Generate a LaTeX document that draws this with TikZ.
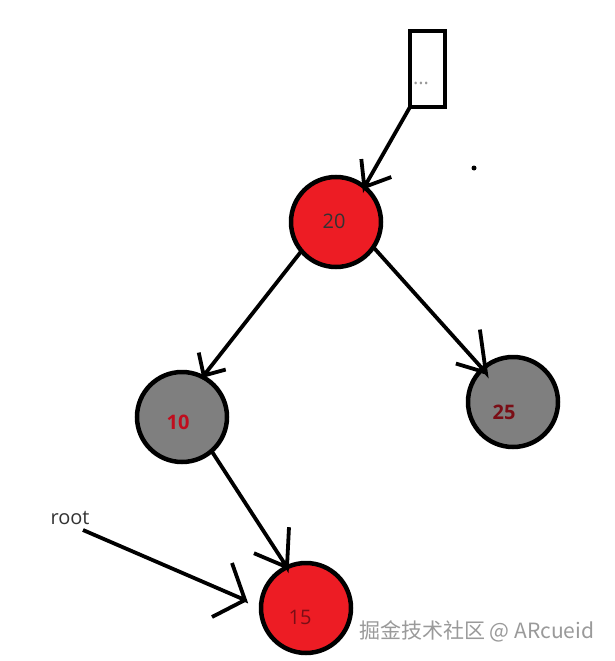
\documentclass[tikz,border=0pt]{standalone}
\usepackage{fontspec}
\setmainfont{Open Sans}
\newfontfamily\cjkwm{Noto Sans CJK SC}
\definecolor{nodered}{HTML}{ED1C24}
\definecolor{nodegray}{HTML}{7F7F7F}
\definecolor{txtdark}{HTML}{333333}
\definecolor{txtred}{HTML}{C00D1E}
\definecolor{txtdeep}{HTML}{7A0E16}
\definecolor{wmgray}{HTML}{9A9A9A}
\tikzset{
  treenode/.style={circle,draw=black,line width=4.5pt,minimum size=90pt,inner sep=0pt,outer sep=0pt},
  rednode/.style={treenode,fill=nodered},
  graynode/.style={treenode,fill=nodegray},
  edge/.style={draw=black,line width=3.8pt,line join=miter},
  val/.style={inner sep=0pt,font=\fontsize{20}{20}\selectfont},
  boldval/.style={val,font=\fontsize{20}{20}\selectfont\bfseries,text=txtred}
}
\begin{document}
\begin{tikzpicture}[x=1pt,y=-1pt]
\useasboundingbox (0,0) rectangle (614,661);
\fill[white] (0,0) rectangle (614,661);
\node[draw=black,line width=4.5pt,fill=white,minimum width=35pt,minimum height=76pt,inner sep=0pt,outer sep=0pt] (box) at (427.5,69) {};
\node[inner sep=0pt,text=gray!80,font=\fontsize{20}{20}\selectfont] (dots) at (421,83) {...};
\node[rednode] (n20) at (336,222) {};
\node[graynode] (n10) at (182,417) {};
\node[graynode] (n25) at (513,402) {};
\node[rednode] (n15) at (306,608) {};
\node[val,text=txtdark] (t20) at (334,221) {20};
\node[boldval] (t10) at (178,422) {10};
\node[boldval,text=txtdeep] (t25) at (504,412) {25};
\node[val,text=txtdeep] (t15) at (300,617) {15};
\node[inner sep=0pt,text=txtdark,font=\fontsize{20}{20}\selectfont] (rootlabel) at (70,518) {root};
\coordinate (rootstart) at (83,530);
\coordinate (roottip) at (245,600);
\coordinate (tip25) at ([shift={(3,4)}]n25.132);
\coordinate (tip10) at ([shift={(2,-1)}]n10.64);
\fill[black] (474,168) circle (2.5pt);
\draw[edge] (box.south west) -- (n20.51) -- ++(-3,-28) (n20.51) -- ++(27,-10);
\draw[edge] (n20.220) -- (tip10) -- ++(-5,-23) (tip10) -- ++(22,-6);
\draw[edge] (n20.-34) -- (tip25) -- ++(-6,-43) (tip25) -- ++(-30,-9);
\draw[edge] (n10.-49) -- (n15.115) -- ++(2,-40) (n15.115) -- ++(-33,-14);
\draw[edge] (rootstart) -- (roottip) -- ++(-13,-37) (roottip) -- ++(-33,17);
\node[inner sep=0pt,anchor=west,text=wmgray,font=\cjkwm\fontsize{21}{21}\selectfont] (wm) at (359,631) {掘金技术社区 @ ARcueid};
\end{tikzpicture}
\end{document}
